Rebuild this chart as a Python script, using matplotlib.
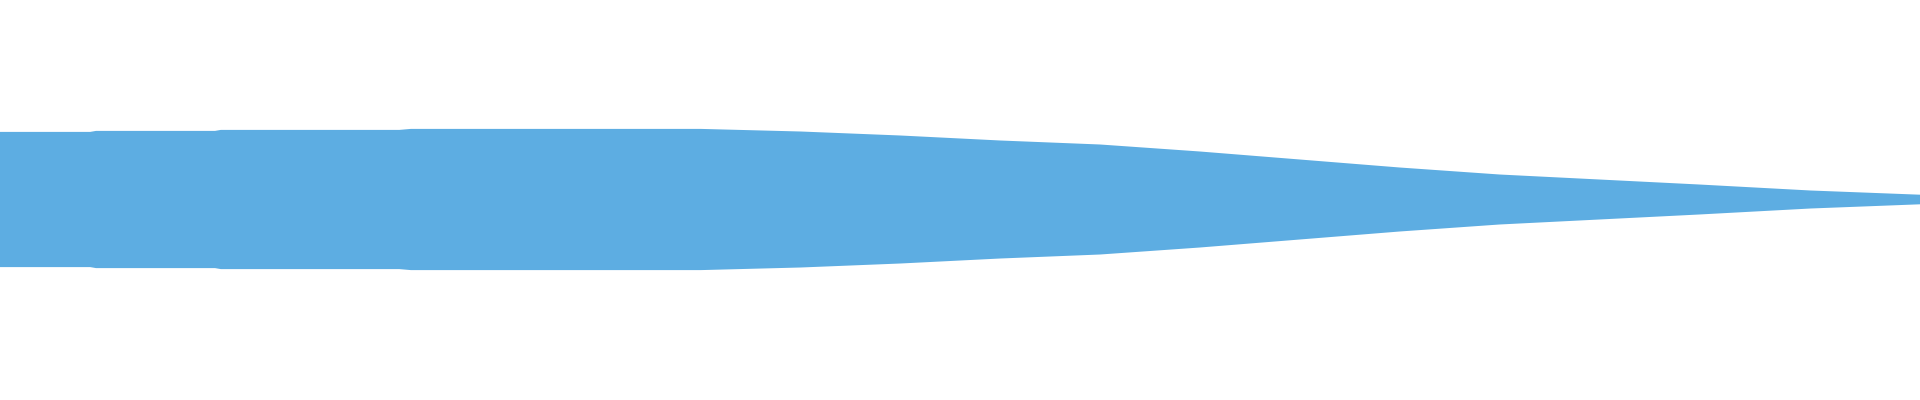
import numpy as np
import matplotlib
matplotlib.use("Agg")
import matplotlib.pyplot as plt

# envelope of the waveform
# position along the clip (0..1) and peak amplitude (full scale = 1)
position = [0.0, 0.047, 0.050, 0.112, 0.115, 0.208, 0.214, 0.365,
            0.417, 0.469, 0.521, 0.573, 0.625, 0.677, 0.729, 0.781,
            0.833, 0.885, 0.943, 1.0]
peak = [0.338, 0.338, 0.343, 0.343, 0.348, 0.348, 0.353, 0.353,
        0.340, 0.320, 0.295, 0.275, 0.240, 0.200, 0.160, 0.125,
        0.100, 0.075, 0.045, 0.024]

wave_color = "#5DADE2"

x = np.array(position)
amp = np.array(peak)

fig = plt.figure(figsize=(19.2, 4), dpi=100)
ax = fig.add_axes([0, 0, 1, 1])
ax.fill_between(x, -amp, amp, color=wave_color, linewidth=0)
ax.set_xlim(0, 1)
ax.set_ylim(-1.0025, 0.9975)
ax.axis("off")

fig.savefig("out.png", dpi=100, facecolor="white")
